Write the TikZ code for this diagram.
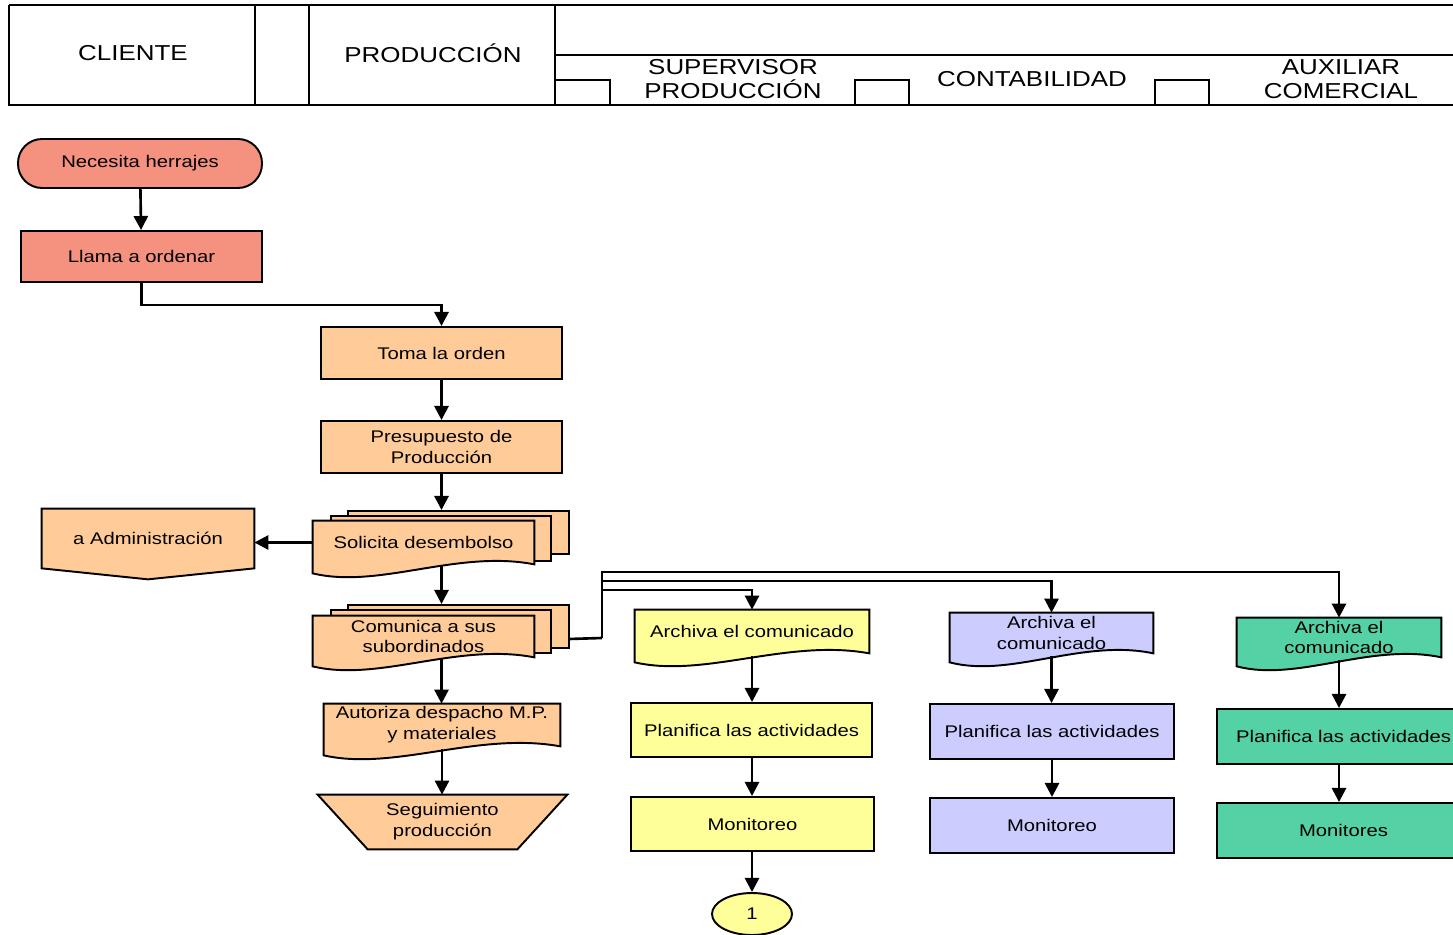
\documentclass[tikz,border=0pt]{standalone}
\usepackage{fontspec}
\setmainfont[FakeStretch=1.2]{Liberation Sans}
\usepackage{tikz}
\usetikzlibrary{positioning}
\usetikzlibrary{calc}
\usetikzlibrary{shapes}
\usetikzlibrary{backgrounds}
\usetikzlibrary{arrows.meta}

\definecolor{salmon}{HTML}{F4917F}
\definecolor{durazno}{HTML}{FFCC99}
\definecolor{amarillo}{HTML}{FFFF99}
\definecolor{lila}{HTML}{CCCCFF}
\definecolor{verde}{HTML}{55D2A5}

\tikzset{
  caja/.style={draw, line width=1.1pt, inner sep=0pt, align=center, font=\fontsize{9.6}{11.9}\selectfont},
  texto/.style={inner sep=0pt, align=center, font=\fontsize{9.6}{11.9}\selectfont},
  tam/.style 2 args={minimum width=#1*0.02cm, minimum height=#2*0.02cm},
  cab/.style={inner sep=0pt, align=center, font=\fontsize{12.3}{13.6}\selectfont},
  marco/.style={line width=1.4pt},
  linea/.style={line width=1.5pt},
  flecha/.style={line width=1.5pt, -{Triangle[length=8pt,width=8pt]}}
}

% hoja con borde ondulado
\newcommand{\hoja}[2]{%
  \begin{pgfonlayer}{background}
    \draw[line width=1.1pt, fill=#2] (#1.north west) -- (#1.north east) -- (#1.south east)
      .. controls ($(#1.south west)!0.65!(#1.south east)+(0,-15)$) and ($(#1.south west)!0.3!(#1.south east)+(0,25)$) .. ($(#1.south west)+(0,9)$) -- cycle;
  \end{pgfonlayer}}

\begin{document}
\begin{tikzpicture}[x=0.02cm, y=-0.02cm]
\useasboundingbox (0,0) rectangle (1453,935);
\clip (0,0) rectangle (1453,935);
%%%%%%%%%%%%%%%%%%%%%%%%%%%%%%%%%%%%%
\draw[marco] (9,5) -- (1453,5);
\draw[marco] (8,105) -- (1453,105);
\draw[marco] (9,5) -- (9,105);
\draw[marco] (255,5) -- (255,105);
\draw[marco] (309,5) -- (309,105);
\draw[marco] (555,5) -- (555,105);
\draw[marco] (555,55) -- (1453,55);
\draw[marco] (555,80) -- (610,80) -- (610,105);
\draw[marco] (855,105) -- (855,80) -- (909,80) -- (909,105);
\draw[marco] (1155,105) -- (1155,80) -- (1209,80) -- (1209,105);
\node[cab] (hcli) at (133,53) {CLIENTE};
\node[cab] (hprod) at (433,53) {PRODUCCIÓN};
\node[cab] (hsup) at (733,79) {SUPERVISOR\\PRODUCCIÓN};
\node[cab] (hcont) at (1032,79) {CONTABILIDAD};
\node[cab] (haux) at (1341,79) {AUXILIAR\\COMERCIAL};
%%%%%%%%%%%%%%%%%%%%%%%%%%%%%%%%%%%%%
\node[caja, fill=salmon, rounded corners=0.48cm, tam={244}{49}] (nec) at (140,163.5) {Necesita herrajes};
\node[caja, fill=salmon, tam={241}{51}] (llama) at (141.5,256.5) {Llama a ordenar};
\node[caja, fill=durazno, tam={241}{52}] (toma) at (441.5,353) {Toma la orden};
\node[caja, fill=durazno, tam={241}{52}] (pres) at (441.5,447) {Presupuesto de\\Producción};
%%%%%%%%%%%%%%
\begin{pgfonlayer}{background}
\node[caja, fill=durazno, tam={221}{43}] (sol3) at (458.5,532.5) {};
\node[caja, fill=durazno, tam={220}{45}] (sol2) at (441,538.5) {};
\node[caja, fill=durazno, tam={221}{43}] (com3) at (458.5,626.5) {};
\node[caja, fill=durazno, tam={220}{43}] (com2) at (441,631.5) {};
\end{pgfonlayer}
\node[texto, tam={221}{43}] (sol) at (423.5,542.5) {Solicita desembolso};
\hoja{sol}{durazno}
\node[texto, tam={221}{41}] (com) at (423.5,636.5) {Comunica a sus\\subordinados};
\hoja{com}{durazno}
\node[texto, tam={236}{42}] (aut) at (442,725) {Autoriza despacho M.P.\\y materiales};
\hoja{aut}{durazno}
%%%%%%%%%%%%%%
\node[texto, tam={212}{59}] (adm) at (148,538.5) {a Administración};
\begin{pgfonlayer}{background}
\draw[line width=1.1pt, fill=durazno] (adm.north west) -- (adm.north east) -- (adm.south east) -- ($(adm.south)+(0,11)$) -- (adm.south west) -- cycle;
\end{pgfonlayer}
\node[texto, tam={149}{54}] (seg) at (442.5,822) {Seguimiento\\producción};
\begin{pgfonlayer}{background}
\draw[line width=1.1pt, fill=durazno] ($(seg.north west)+(-50,0)$) -- ($(seg.north east)+(50,0)$) -- (seg.south east) -- (seg.south west) -- cycle;
\end{pgfonlayer}
%%%%%%%%%%%%%%%%%%%%%%%%%%%%%%%%%%%%%
\node[texto, tam={234}{43}] (arch1) at (752,631.5) {Archiva el comunicado};
\hoja{arch1}{amarillo}
\node[caja, fill=amarillo, tam={241}{54}] (plan1) at (751.5,730) {Planifica las actividades};
\node[caja, fill=amarillo, tam={243}{54}] (mon1) at (752.5,824) {Monitoreo};
\node[caja, ellipse, fill=amarillo, tam={80}{42}] (uno) at (752,914) {1};
%%%%%%%%%%%%%%
\node[texto, tam={203}{40}] (arch2) at (1051.5,633) {Archiva el\\comunicado};
\hoja{arch2}{lila}
\node[caja, fill=lila, tam={244}{55}] (plan2) at (1052,731.5) {Planifica las actividades};
\node[caja, fill=lila, tam={244}{55}] (mon2) at (1052,825.5) {Monitoreo};
%%%%%%%%%%%%%%
\node[texto, tam={204}{39}] (arch3) at (1339,637.5) {Archiva el\\comunicado};
\hoja{arch3}{verde}
\node[caja, fill=verde, tam={253}{55}] (plan3) at (1343.5,736.5) {Planifica las actividades};
\node[caja, fill=verde, tam={253}{55}] (mon3) at (1343.5,830.5) {Monitores};
%%%%%%%%%%%%%%%%%%%%%%%%%%%%%%%%%%%%%
\coordinate (rep) at (602,638);

\draw[flecha] (nec) -- (llama);
\draw[flecha] (llama.south) -- ++(0,22) -| (toma.north);
\draw[flecha] (toma) -- (pres);
\draw[flecha] (pres.south) -- (pres.south |- sol3.north);
\draw[flecha] (sol.west) -- (sol.west -| adm.east);
\draw[flecha] ($(pres.south |- sol.south)+(0,2)$) -- (pres.south |- com3.north);
\draw[flecha] ($(pres.south |- com.south)+(0,2)$) -- (pres.south |- aut.north);
\draw[flecha] ($(aut.south)+(0,3)$) -- (aut.south |- seg.north);
%%%%%%%%%%
\draw[linea] ($(com3.south east)+(0,-10)$) -- (rep);
\draw[flecha] (rep) -- ++(0,-48) -| (arch1.north);
\draw[flecha] (rep) -- ++(0,-57) -| (arch2.north);
\draw[flecha] (rep) -- ++(0,-66) -| (arch3.north);
%%%%%%%%%%
\draw[flecha] ($(arch1.south)+(0,3)$) -- (arch1.south |- plan1.north);
\draw[flecha] (plan1.south -| arch1.south) -- (arch1.south |- mon1.north);
\draw[flecha] (mon1.south -| uno.north) -- (uno.north);
\draw[flecha] ($(arch2.south)+(0,3)$) -- (arch2.south |- plan2.north);
\draw[flecha] (plan2) -- (mon2);
\draw[flecha] ($(arch3.south)+(0,3)$) -- (arch3.south |- plan3.north);
\draw[flecha] (plan3.south -| arch3.south) -- (arch3.south |- mon3.north);
\end{tikzpicture}
\end{document}
